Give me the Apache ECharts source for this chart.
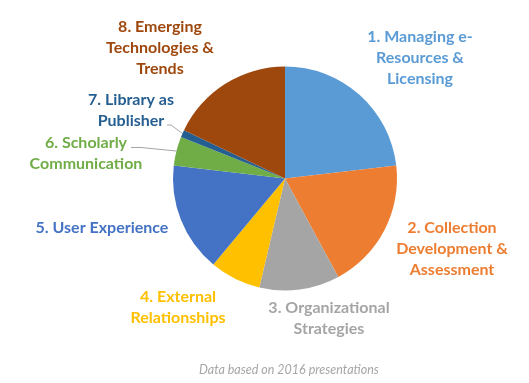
<!DOCTYPE html>
<html><head><meta charset="utf-8">
<script src="https://cdn.jsdelivr.net/npm/echarts@6/dist/echarts.min.js"></script>
<style>html,body{margin:0;padding:0;background:#fff}#c{width:529px;height:383px}</style>
</head><body><div id="c"></div>
<script>
const categories = [
  "1. Managing e-\nResources &\nLicensing",
  "2. Collection\nDevelopment &\nAssessment",
  "3. Organizational\nStrategies",
  "4. External\nRelationships",
  "5. User Experience",
  "6. Scholarly\nCommunication",
  "7. Library as\nPublisher",
  "8. Emerging\nTechnologies &\nTrends"
];
const values = [22, 18, 11, 7, 15, 4, 1, 17];
const colors = ["#5B9BD5", "#ED7D31", "#A5A5A5", "#FFC000", "#4472C4", "#70AD47", "#255E91", "#9E480E"];
const footnote = "Data based on 2016 presentations";

const labelX = [420, 452, 329, 178, 102, 86, 131, 160];
const labelY = [58, 248.5, 318.3, 307.5, 227.7, 153.5, 110.5, 48.3];
const leaderBend = {5: [[141, 147.5], [131, 147.5]], 6: [[171, 125], [167, 125]]};

const chart = echarts.init(document.getElementById('c'), null, {renderer: 'canvas'});
chart.setOption({
  animation: false,
  title: {
    text: footnote, left: 194, top: 358,
    textStyle: {fontFamily: 'Lato', fontStyle: 'italic', fontWeight: 'normal', fontSize: 12.5, color: '#a6a6a6'}
  },
  series: [{
    type: 'pie',
    center: [285, 178.5],
    radius: 112,
    startAngle: 90,
    clockwise: true,
    data: categories.map((n, i) => ({
      name: n, value: values[i],
      itemStyle: {color: colors[i]},
      label: {color: colors[i]},
      labelLine: {show: i === 5 || i === 6}
    })),
    label: {
      show: true, position: 'outside', formatter: '{b}', overflow: 'none', edgeDistance: 0,
      fontFamily: 'Lato', fontWeight: 'bold', fontSize: 16, lineHeight: 21, align: 'center'
    },
    labelLine: {show: false, lineStyle: {color: '#a5a5a5', width: 1}, length: 10, length2: 10},
    labelLayout: function (p) {
      const i = p.dataIndex;
      const o = {x: labelX[i], y: labelY[i], align: 'center', verticalAlign: 'middle', hideOverlap: false, moveOverlap: null};
      if (leaderBend[i] && p.labelLinePoints) {
        o.labelLinePoints = [p.labelLinePoints[0], leaderBend[i][0], leaderBend[i][1]];
      }
      return o;
    }
  }]
});
</script></body></html>
